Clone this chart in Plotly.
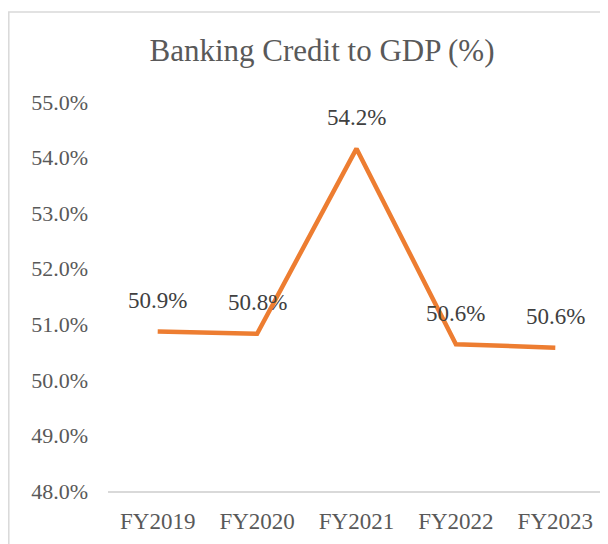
import plotly.graph_objects as go

categories = ["FY2019", "FY2020", "FY2021", "FY2022", "FY2023"]
values = [50.87, 50.83, 54.16, 50.64, 50.58]
labels = ["50.9%", "50.8%", "54.2%", "50.6%", "50.6%"]
y_ticks = [48, 49, 50, 51, 52, 53, 54, 55]
y_tick_labels = ["48.0%", "49.0%", "50.0%", "51.0%", "52.0%", "53.0%", "54.0%", "55.0%"]

FONT = "Liberation Serif, Times New Roman, serif"
W, H = 608, 544
L, R, T, B = 100, 11, 94, 61
pw, ph = W - L - R, H - T - B

fig = go.Figure()
fig.add_trace(go.Scatter(
    x=categories, y=values, mode="lines",
    line=dict(color="#ED7D31", width=4.5),
    hoverinfo="skip", showlegend=False,
))

annotations = [
    dict(x=c, y=v, xref="x", yref="y", text=t, showarrow=False,
         yshift=31, xanchor="center", yanchor="middle",
         font=dict(family=FONT, size=23, color="#404040"))
    for c, v, t in zip(categories, values, labels)
]

fig.update_layout(
    width=W, height=H,
    margin=dict(l=L, r=R, t=T, b=B),
    paper_bgcolor="white", plot_bgcolor="white",
    title=dict(text="Banking Credit to GDP (%)", x=(L + 322 - 8) / W * 0 + (322 - 8) / W, xanchor="center",
               y=1 - 42 / H, yanchor="middle",
               font=dict(family=FONT, size=31, color="#595959")),
    xaxis=dict(type="category", range=[-0.5, 4.5], showgrid=False, showline=True,
               linecolor="#D9D9D9", linewidth=1.5, ticks="", ticklabelstandoff=9,
               tickfont=dict(family=FONT, size=23, color="#595959")),
    yaxis=dict(range=[48, 55], tickvals=y_ticks, ticktext=y_tick_labels, showgrid=False,
               showline=False, zeroline=False, ticks="", ticklabelstandoff=19,
               tickfont=dict(family=FONT, size=22, color="#595959")),
    annotations=annotations,
    shapes=[dict(type="rect", xref="paper", yref="paper",
                 x0=(0.8 - L) / pw, x1=1 + 30 / pw,
                 y0=-(B + 20) / ph, y1=(H - B - 4) / ph,
                 line=dict(color="#D9D9D9", width=1.5), fillcolor="rgba(0,0,0,0)", layer="below")],
)

fig.write_html("out.html")
